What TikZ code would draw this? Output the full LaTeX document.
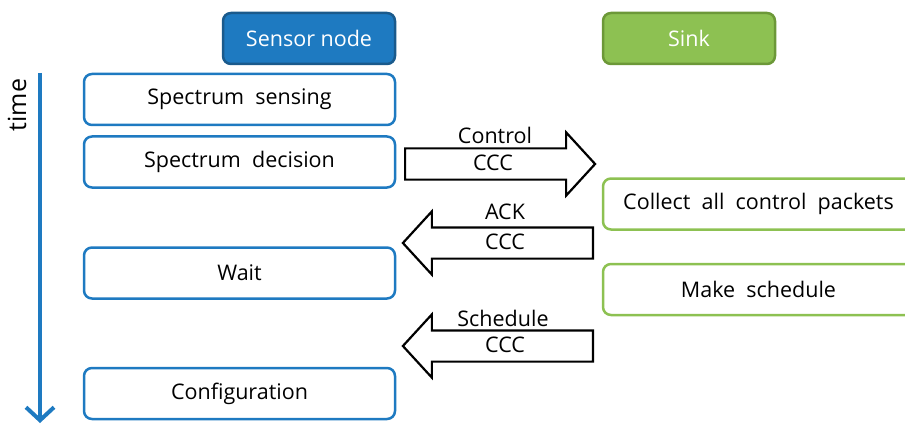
\documentclass[tikz,border=0pt]{standalone}
\usepackage{fontspec}
\setmainfont{Open Sans}
\usetikzlibrary{positioning,shapes.arrows,arrows.meta,calc}

\definecolor{snblue}{RGB}{30,122,193}
\definecolor{snbluedark}{RGB}{26,90,140}
\definecolor{skgreen}{RGB}{141,193,82}
\definecolor{skgreendark}{RGB}{108,152,56}

\begin{document}
\begin{tikzpicture}[
    x=1pt,y=-1pt,
    font=\fontsize{21.5}{25}\selectfont,
    line width=2.5pt
  ]
\useasboundingbox (0,0) rectangle (905,425);

\tikzstyle{head}=[rounded corners=8pt,minimum width=172pt,minimum height=51pt,text=white]
\tikzstyle{stage}=[draw=snblue,rounded corners=8pt,minimum width=311pt,minimum height=51pt]
\tikzstyle{sinkstage}=[draw=skgreen,rounded corners=8pt,minimum width=311pt,minimum height=51pt]
\tikzstyle{msg}=[single arrow,draw=black,line width=2.2pt,minimum height=190pt,
  single arrow head extend=16pt,single arrow tip angle=95,
  text height=13pt,text depth=0pt,inner ysep=8pt,inner xsep=2pt]

% column headers
\node[head,fill=snblue,draw=snbluedark] at (309,38.5) (sensor) {Sensor node};
\node[head,fill=skgreen,draw=skgreendark] at (689,38.5) (sink) {Sink};

% sensor node stages
\node[stage] at (239.5,99.5) (sensing) {Spectrum~~sensing};
\node[stage,node distance=9pt,below = of sensing] (decision) {Spectrum~~decision};
\node[stage] at (239.5,273) (wait) {Wait};
\node[stage] at (239.5,393.5) (config) {Configuration};

% sink stages
\node[sinkstage] at (758.5,204) (collect) {Collect~~all~~control~~packets};
\node[sinkstage] at (758.5,289.5) (sched) {Make~~schedule};

% messages over the CCC
\node[msg,anchor=tail] at (404,164) (ctl) {CCC};
\node[msg,shape border rotate=180,anchor=tail] at (594,243) (ack) {CCC};
\node[msg,shape border rotate=180,anchor=tail] at (594,346) (schmsg) {CCC};
\node at (495,135) (ctllbl) {Control};
\node at (505,212) (acklbl) {ACK};
\node at (503,318) (schlbl) {Schedule};

% time axis
\coordinate (tstart) at (40,73);
\coordinate (tend) at (40,423);
\draw[snblue,line width=4pt,-{Straight Barb[length=13pt,width=28pt]}] (tstart) -- (tend);
\node[rotate=90,font=\fontsize{25}{28}\selectfont] at (17,105) (time) {time};

\end{tikzpicture}
\end{document}
